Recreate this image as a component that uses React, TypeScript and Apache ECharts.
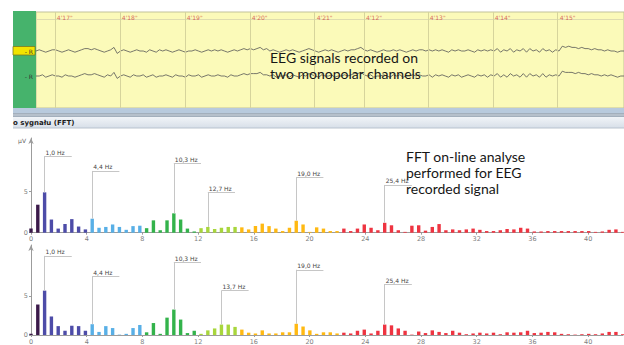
import { useEffect, useRef } from "react";
import * as echarts from "echarts";

// ---------- EEG (top panel) ----------
const EEG_SAMPLE_STEP_S = 0.05;
const EEG_CH1 = [0,1,0,-1,0,1,1,0,-1,0,1,0,-1,0,
 1,2,2,1,2,1,
 0,-1,0,1,
 3,-2,0,
 1,0,-1,0,1,0,0,-1,1,0,-1,1,0,1,
 0,-1,0,1,0,-1,0,0,1,0,-1,0,1,0,1,
 0,1,0,-1,0,1,0,1,2,1,2,1,
 2,3,1,2,0,1,0,
 -1,0,1,0,1,0,-1,0,1,2,1,0,-1,0,1,0,1,0,-1,0,1,0,
 1,1,2,3,1,
 0,1,0,-1,0,1,0,0,1,0,1,0,-1,0,1,0,1,1,0,
 1,0,1,0,1,0,-1,1,0,1,0,0,1,0,-1,1,0,1,0,1,
 0,2,-1,1,0,2,-1,1,0,2,-1,2,0,1,-1,2,0,1,-1,1,0,
 4,3,4,3,3,2,3,2,2,1,2,1,1,0,1,0,0,-1,0,0];
const EEG_CH2 = [0,0,1,-1,0,1,0,0,-1,1,0,0,-1,0,
 1,2,1,1,2,1,
 0,-1,1,0,
 3,-2,0,
 1,0,-1,1,0,0,1,-1,0,1,-1,0,0,1,
 0,-1,1,0,0,-1,1,0,0,1,-1,0,1,0,0,
 1,0,0,-1,1,0,0,1,2,1,2,2,
 2,3,1,1,0,1,-1,
 0,0,1,-1,1,0,-1,1,0,2,1,0,-1,1,0,0,1,-1,0,0,1,0,
 1,2,2,3,1,
 0,1,-1,0,0,1,0,-1,1,0,1,-1,0,0,1,0,1,0,0,
 1,-1,1,0,1,0,-1,1,0,1,-1,0,1,0,-1,1,0,1,-1,1,
 0,2,-1,1,-1,2,0,1,-1,2,-1,2,0,1,-1,2,-1,1,0,1,0,
 4,3,3,3,2,3,2,2,1,2,1,1,0,1,0,1,0,-1,0,0];
const EEG_CHANNEL_LABELS = ["- R", "- R"];
const EEG_TICK_TIMES = [0.29, 1.29, 2.29, 3.29, 4.29, 5.05, 6.03, 7.03, 8.03];
const EEG_TICK_LABELS = ["4'17\"", "4'18\"", "4'19\"", "4'20\"", "4'21\"", "4'12\"", "4'13\"", "4'14\"", "4'15\""];

// ---------- FFT (two spectra) ----------
const FREQ_STEP_HZ = 0.48828; // 250 Hz / 512 points
const FFT_CH1 = [
 0.5,3.4,4.9,1.6,0.5,1.05,1.65,0.75,0.4,1.7,
 0.6,0.7,1.0,0.7,0.35,0.8,0.85,0.55,1.5,0.3,
 1.5,2.35,1.6,0.5,0.15,0.55,0.7,0.45,0.6,0.7,
 0.7,0.65,0.4,0.8,1.1,0.8,0.5,0.2,0.6,1.45,
 1.0,0.1,0.65,0.5,0.2,0.2,0.5,0.2,0.5,1.0,
 0.6,0.3,1.2,0.9,0.3,0.1,0.85,0.9,0.25,0.7,
 1.05,0.3,0.4,0.3,0.4,0.5,0.35,0.2,0.2,0.3,
 0.45,0.4,0.6,0.5,0.15,0.15,0.2,0.2,0.2,0.2,
 0.2,0.2,0.2,0.1,0.15,0.35,0.4,0.1];
const FFT_CH2 = [
 0.15,3.95,5.75,2.4,1.15,0.55,1.2,1.15,0.55,1.4,
 0.4,1.15,0.9,0.05,0.15,0.9,1.3,0.35,1.55,0.15,
 2.25,3.3,2.0,0.25,0.55,0.15,0.6,0.85,1.35,1.35,
 1.05,0.7,0.3,0.2,0.6,0.2,0.2,0.35,0.35,1.45,
 1.1,0.6,0.15,0.35,0.35,0.2,0.3,0.2,0.55,0.7,
 0.2,0.55,1.35,1.25,0.85,0.55,0.05,0.45,0.25,0.6,
 0.4,0.25,0.55,0.3,0.1,0.2,0.3,0.2,0.3,0.1,
 0.35,0.3,0.35,0.55,0.25,0.3,0.4,0.35,0.15,0.1,
 0.05,0.1,0.15,0.1,0.2,0.4,0.4,0.1];
// peak annotations: bin index and the µV level of the label leader
const PEAKS_CH1 = [{ bin: 2, level: 9.3 }, { bin: 9, level: 7.5 }, { bin: 21, level: 8.4 }, { bin: 26, level: 4.9 }, { bin: 39, level: 6.75 }, { bin: 52, level: 5.8 }];
const PEAKS_CH2 = [{ bin: 2, level: 10.25 }, { bin: 9, level: 7.6 }, { bin: 21, level: 9.4 }, { bin: 28, level: 5.75 }, { bin: 39, level: 8.45 }, { bin: 52, level: 6.6 }];
const BAND_LAST_BIN = [1, 8, 16, 24, 30, 45, 999];
const BAND_COLORS = ["#3b1a4a", "#4d4ca8", "#58afe6", "#33b34b", "#a8d63c", "#ffb912", "#ee3441"];

const TITLE_EEG = ["EEG signals recorded on", "two monopolar channels"];
const TITLE_FFT = ["FFT on-line analyse", "performed for EEG", "recorded signal"];
const PANEL_TITLE = "o sygnału (FFT)";

const SMALL_FONT = "DejaVu Sans";

function binColor(k: number) {
  for (let i = 0; i < BAND_LAST_BIN.length; i++) if (k <= BAND_LAST_BIN[i]) return BAND_COLORS[i];
  return BAND_COLORS[BAND_COLORS.length - 1];
}
function fmtHz(f: number) {
  return f.toFixed(1).replace(".", ",") + " Hz";
}

function fftSeries(values: number[], peaks: { bin: number; level: number }[], idx: number) {
  const lines: any[] = [];
  peaks.forEach((p) => {
    const f = p.bin * FREQ_STEP_HZ;
    lines.push([{ coord: [f, values[p.bin]] }, { coord: [f, p.level] }]);
    lines.push([
      { coord: [f, p.level], name: fmtHz(f), label: { show: true } },
      { coord: [f + 1.95, p.level] },
    ]);
  });
  return {
    type: "bar",
    xAxisIndex: idx,
    yAxisIndex: idx,
    barWidth: 3.4,
    clip: false,
    data: values.map((v, k) => ({ value: [k * FREQ_STEP_HZ, v], itemStyle: { color: binColor(k) } })),
    markLine: {
      silent: true,
      symbol: ["none", "none"],
      animation: false,
      lineStyle: { color: "#c6c6c6", width: 1, type: "solid" },
      label: {
        show: false,
        position: "insideStartTop",
        formatter: "{b}",
        fontSize: 6,
        fontFamily: SMALL_FONT,
        color: "#444",
        distance: [1, 1],
      },
      emphasis: { disabled: true },
      data: lines,
    },
  };
}

function fftXAxis(idx: number) {
  return {
    gridIndex: idx,
    type: "value",
    min: 0,
    max: 42.5,
    interval: 4,
    axisLine: { lineStyle: { color: "#9c9c9c", width: 1 } },
    axisTick: { length: 2, lineStyle: { color: "#9c9c9c" } },
    axisLabel: { fontSize: 6.5, color: "#808080", margin: 3, fontFamily: SMALL_FONT, showMaxLabel: false },
    splitLine: { show: false },
  };
}
function fftYAxis(idx: number, max: number) {
  return {
    gridIndex: idx,
    type: "value",
    min: 0,
    max,
    axisLine: { show: true, symbol: ["none", "arrow"], symbolSize: [4, 6], lineStyle: { color: "#9c9c9c", width: 1 } },
    axisTick: { show: true, length: 2, customValues: [0, 5], lineStyle: { color: "#9c9c9c" } },
    axisLabel: { customValues: [0, 5], fontSize: 6.5, color: "#808080", margin: 3, fontFamily: SMALL_FONT },
    splitLine: { show: false },
  };
}

export default function App() {
  const ref = useRef<HTMLDivElement>(null);
  useEffect(() => {
    if (!ref.current) return;
    const chart = echarts.init(ref.current, undefined, { renderer: "svg" });
    const CH_SPACING = 25;
    const eegSeries = [EEG_CH1, EEG_CH2].map((ch, c) => ({
      type: "line",
      xAxisIndex: 0,
      yAxisIndex: 0,
      showSymbol: false,
      symbol: "none",
      silent: true,
      z: 3,
      lineStyle: { color: "#555", width: 0.8 },
      data: ch.map((v, i) => [i * EEG_SAMPLE_STEP_S, v * 1.2 - c * CH_SPACING]),
      markLine:
        c === 0
          ? {
              silent: true,
              symbol: ["none", "none"],
              animation: false,
              label: { show: false },
              lineStyle: { color: "#d6d49c", width: 1, type: "solid" },
              data: EEG_TICK_TIMES.map((t) => ({ xAxis: t })),
            }
          : undefined,
    }));
    const tickLabelSeries = {
      type: "scatter",
      xAxisIndex: 0,
      yAxisIndex: 0,
      symbolSize: 0,
      silent: true,
      data: EEG_TICK_TIMES.map((t, i) => ({ value: [t, 39], name: EEG_TICK_LABELS[i] })),
      label: {
        show: true,
        formatter: "{b}",
        position: [2, 2],
        align: "left",
        verticalAlign: "top",
        fontSize: 6,
        fontFamily: SMALL_FONT,
        color: "#d04545",
      },
    };

    const bigText = (lines: string[], x: number, y: number) => ({
      type: "text",
      x,
      y,
      z: 100,
      style: {
        text: lines.join("\n"),
        font: "14px Lato",
        fill: "#161616",
        lineHeight: 16,
        textVerticalAlign: "top",
      },
    });

    chart.setOption({
      animation: false,
      grid: [
        { left: 36, top: 12, width: 588, height: 96, show: true, backgroundColor: "#fbfab9", borderColor: "#c2c29a", borderWidth: 1 },
        { left: 31, top: 138, width: 592, height: 94.7 },
        { left: 31, top: 245, width: 592, height: 93.3 },
      ],
      xAxis: [{ gridIndex: 0, type: "value", min: 0, max: 9.05, show: false }, fftXAxis(1), fftXAxis(2)],
      yAxis: [{ gridIndex: 0, type: "value", min: -57, max: 39, show: false }, fftYAxis(1, 11.5), fftYAxis(2, 11.66)],
      series: [...eegSeries, tickLabelSeries, fftSeries(FFT_CH1, PEAKS_CH1, 1), fftSeries(FFT_CH2, PEAKS_CH2, 2)],
      graphic: [
        { type: "rect", shape: { x: 13, y: 11, width: 23, height: 97 }, style: { fill: "#46b36c" }, z: 1 },
        { type: "line", shape: { x1: 36, y1: 19.5, x2: 624, y2: 19.5 }, style: { stroke: "#dedcae", lineWidth: 1 }, z: 1 },
        { type: "rect", shape: { x: 13, y: 46.5, width: 22, height: 8.5 }, style: { fill: "#f2e400", stroke: "#7d7a20", lineWidth: 0.8 }, z: 2 },
        { type: "text", x: 33, y: 51, z: 3, style: { text: EEG_CHANNEL_LABELS[0], font: `6px '${SMALL_FONT}'`, fill: "#333", textAlign: "right", textVerticalAlign: "middle" } },
        { type: "text", x: 33, y: 76, z: 3, style: { text: EEG_CHANNEL_LABELS[1], font: `6px '${SMALL_FONT}'`, fill: "#333", textAlign: "right", textVerticalAlign: "middle" } },
        { type: "rect", shape: { x: 13, y: 108, width: 611, height: 5 }, style: { fill: "#b8cadd" }, z: 1 },
        { type: "rect", shape: { x: 13, y: 113, width: 611, height: 4 }, style: { fill: "#a3afbc" }, z: 1 },
        { type: "line", shape: { x1: 13, y1: 115, x2: 624, y2: 115 }, style: { stroke: "#c9d1da", lineWidth: 1 }, z: 2 },
        {
          type: "rect",
          shape: { x: 13, y: 117, width: 611, height: 11 },
          style: {
            fill: new echarts.graphic.LinearGradient(0, 0, 0, 1, [
              { offset: 0, color: "#f1f4f8" },
              { offset: 1, color: "#d7dfe8" },
            ]),
          },
          z: 1,
        },
        { type: "line", shape: { x1: 13, y1: 128, x2: 624, y2: 128 }, style: { stroke: "#b9c3ce", lineWidth: 1 }, z: 2 },
        { type: "text", x: 13, y: 122.5, z: 3, style: { text: PANEL_TITLE, font: `bold 7px '${SMALL_FONT}'`, fill: "#1d1d1d", textVerticalAlign: "middle" } },
        { type: "text", x: 26, y: 140, z: 3, style: { text: "µV", font: `6px '${SMALL_FONT}'`, fill: "#666", textAlign: "right", textVerticalAlign: "middle" } },
        bigText(TITLE_EEG, 270, 49),
        bigText(TITLE_FFT, 406, 148),
      ],
    });
    return () => chart.dispose();
  }, []);
  return <div ref={ref} style={{ position: "fixed", left: 0, top: 0, width: 624, height: 345, background: "#fff" }} />;
}
